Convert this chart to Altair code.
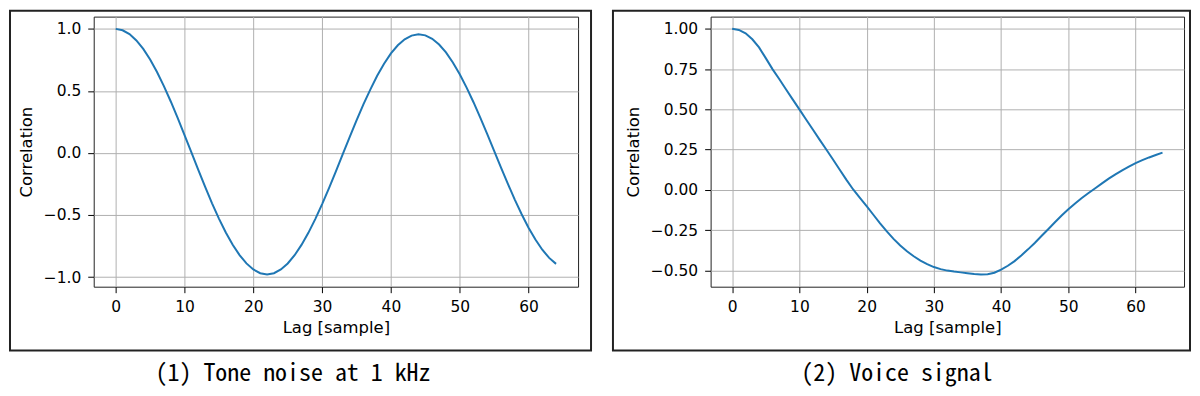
import altair as alt
import pandas as pd

lags = list(range(65))
tone = [1.000, 0.989, 0.958, 0.907, 0.839, 0.753, 0.652, 0.539, 0.415, 0.282, 0.144,
        0.004, -0.137, -0.274, -0.406, -0.529, -0.641, -0.740, -0.823, -0.890, -0.939, -0.969,
        -0.979, -0.969, -0.939, -0.891, -0.824, -0.741, -0.644, -0.533, -0.412, -0.283, -0.148,
        -0.010, 0.127, 0.262, 0.391, 0.511, 0.622, 0.719, 0.802, 0.868, 0.916, 0.946,
        0.957, 0.948, 0.920, 0.874, 0.810, 0.729, 0.635, 0.527, 0.409, 0.283, 0.151,
        0.017, -0.118, -0.249, -0.376, -0.494, -0.603, -0.698, -0.780, -0.846, -0.894]
voice = [1.000, 0.993, 0.972, 0.935, 0.885, 0.818, 0.750, 0.688, 0.625, 0.562, 0.500,
         0.437, 0.375, 0.312, 0.250, 0.188, 0.125, 0.062, 0.002, -0.050, -0.102, -0.155,
         -0.208, -0.258, -0.305, -0.346, -0.382, -0.413, -0.440, -0.462, -0.480, -0.493, -0.502,
         -0.508, -0.513, -0.518, -0.523, -0.526, -0.525, -0.515, -0.496, -0.472, -0.443, -0.408,
         -0.370, -0.330, -0.287, -0.245, -0.202, -0.160, -0.121, -0.085, -0.051, -0.020, 0.010,
         0.040, 0.069, 0.096, 0.121, 0.144, 0.166, 0.184, 0.201, 0.216, 0.231]
x_ticks = [0, 10, 20, 30, 40, 50, 60]
tone_y_ticks = [-1.0, -0.5, 0.0, 0.5, 1.0]
voice_y_ticks = [-0.5, -0.25, 0.0, 0.25, 0.5, 0.75, 1.0]
captions = ["(1) Tone noise at 1 kHz", "(2) Voice signal"]
x_title = "Lag [sample]"
y_title = "Correlation"

PLOT_H = 271


def panel(values, yticks, ydomain, yfmt, width, caption, cap_x, frame_x, frame_x2):
    df = pd.DataFrame({"lag": lags, "corr": values})
    x = alt.X("lag:Q",
              scale=alt.Scale(domain=[-3.2, 67.2], nice=False, zero=False),
              axis=alt.Axis(values=x_ticks, format="d", title=x_title,
                            labelPadding=7, titlePadding=4))
    y = alt.Y("corr:Q",
              scale=alt.Scale(domain=ydomain, nice=False, zero=False),
              axis=alt.Axis(values=yticks, format=yfmt, title=y_title,
                            labelPadding=7, titlePadding=9))
    line = alt.Chart(df).mark_line(color="#1f77b4", strokeWidth=2).encode(x=x, y=y)
    frame = alt.Chart(pd.DataFrame({"k": [0]})).mark_rect(
        filled=False, stroke="#222222", strokeWidth=2, color="#222222"
    ).encode(x=alt.value(frame_x), x2=alt.value(frame_x2),
             y=alt.value(-6), y2=alt.value(335))
    cap = alt.Chart(pd.DataFrame({"t": [caption]})).mark_text(
        font="Noto Sans Mono CJK JP, Liberation Mono, monospace", fontSize=24,
        align="center", baseline="alphabetic", color="black"
    ).encode(x=alt.value(cap_x), y=alt.value(366), text="t:N")
    return alt.layer(frame, line, cap).properties(width=width, height=PLOT_H)


p1 = panel(tone, tone_y_ticks, [-1.078, 1.099], ".1f", 486, captions[0], 200, -84, 499)
p2 = panel(voice, voice_y_ticks, [-0.602, 1.076], ".2f", 475, captions[1], 187, -98, 481)

chart = alt.hconcat(p1, p2, spacing=18).properties(
    padding=0, background="white"
).configure_view(
    stroke="#222222", strokeWidth=1
).configure_axis(
    labelFont="DejaVu Sans", labelFontSize=15.5, labelColor="black",
    titleFont="DejaVu Sans", titleFontSize=16.5, titleFontWeight="normal", titleColor="black",
    tickColor="black", tickSize=6, tickWidth=1,
    gridColor="#b0b0b0", gridWidth=1, domain=False
)

chart.save("out.html", embed_options={"renderer": "svg", "actions": False})
